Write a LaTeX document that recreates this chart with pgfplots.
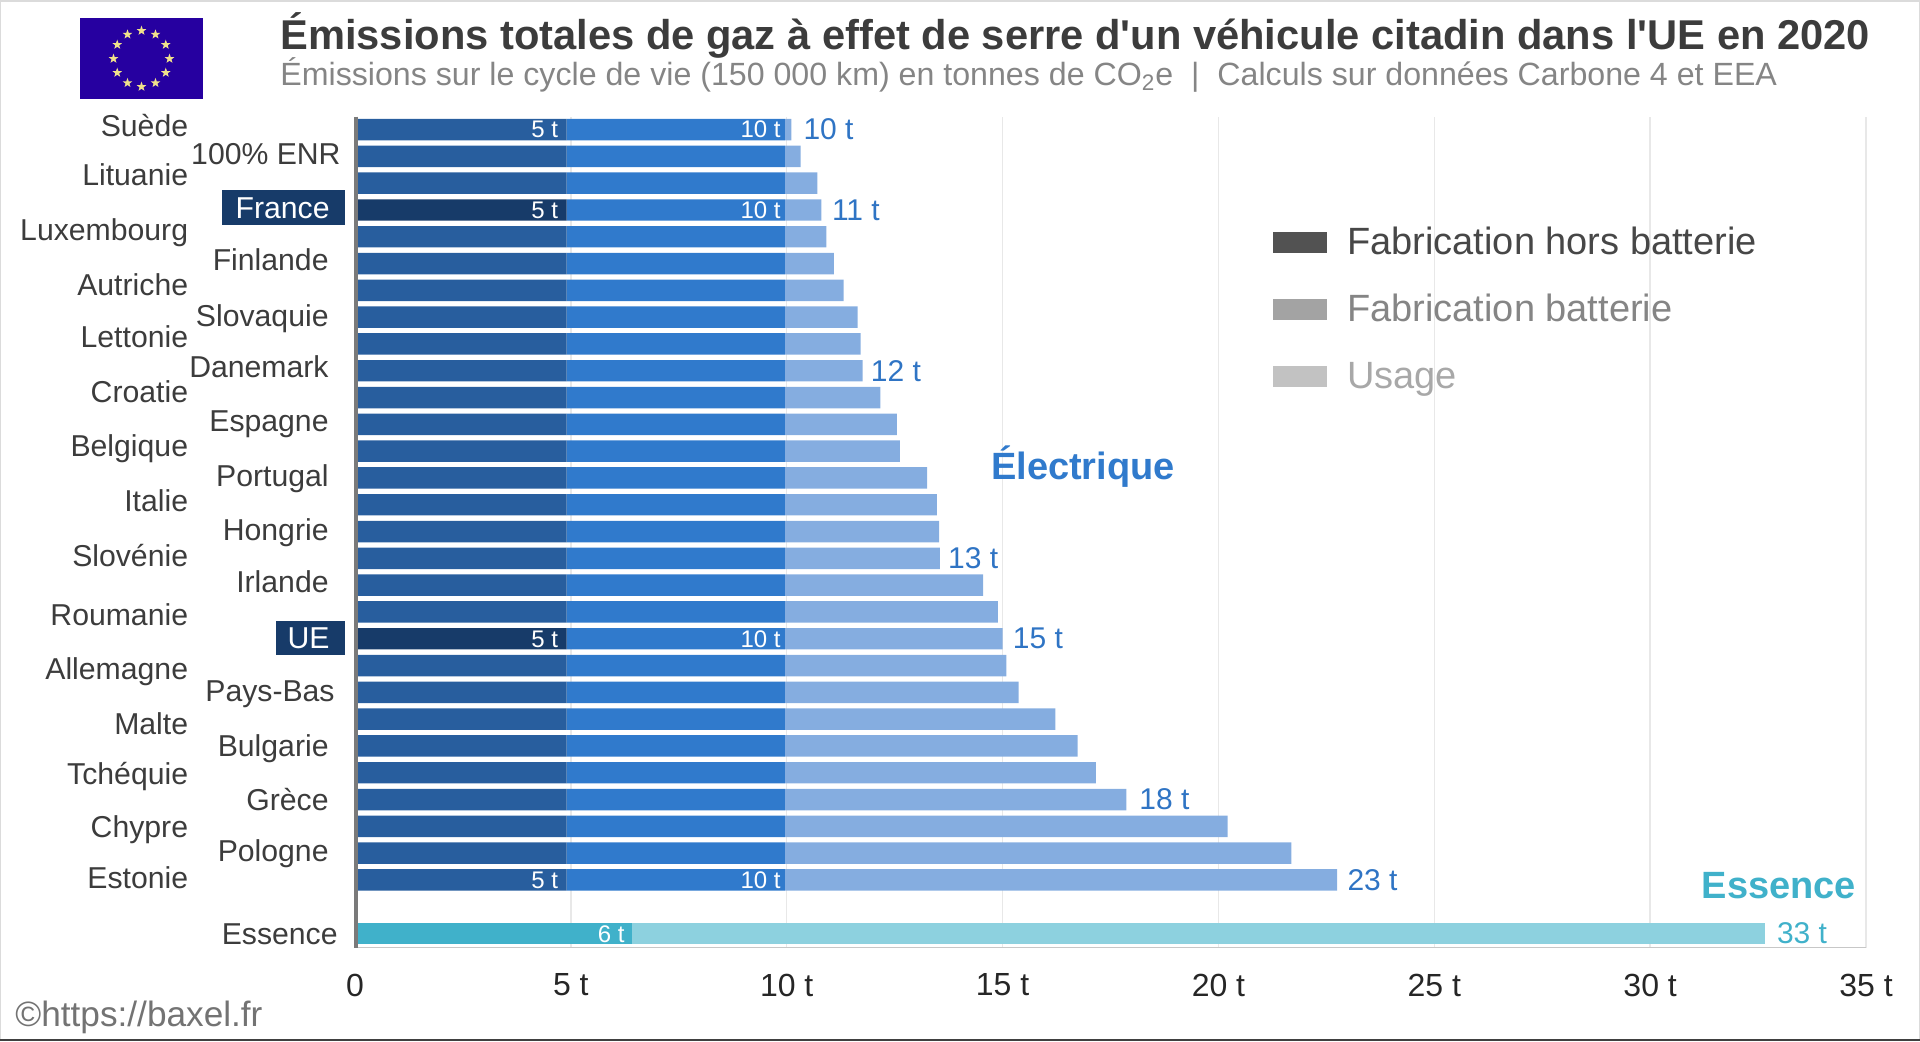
\documentclass[border=0pt]{standalone}
\usepackage{fontspec}
\setmainfont{Liberation Sans}
\usepackage{pgfplots}
\usepackage{pgfplotstable}
\pgfplotsset{compat=1.18}
\usetikzlibrary{shapes.geometric,calc}
\definecolor{fab}{HTML}{285E9E}
\definecolor{fabhi}{HTML}{173B69}
\definecolor{batt}{HTML}{307ACC}
\definecolor{usage}{HTML}{85ADE0}
\definecolor{essa}{HTML}{40B1CA}
\definecolor{essb}{HTML}{8DD1DF}
\definecolor{elec}{HTML}{2F74C4}
\definecolor{gridc}{HTML}{E8E8E8}
\definecolor{lab}{HTML}{3C3C3C}
\newcommand{\fs}[1]{\fontsize{#1}{#1}\selectfont}
\newcommand{\total}[3]{\node[anchor=west,inner sep=0pt,font=\fs{15},text=elec] at (axis cs:#1,#2) {#3};}
% y: row position, Suede on top, Essence set apart at 0
\pgfplotstableread{
y  fab  fabhi batt usage essa essb
30 4.90 0    5.06 0.15  0    0
29 4.90 0    5.06 0.36  0    0
28 4.90 0    5.06 0.75  0    0
27 0    4.90 5.06 0.84  0    0
26 4.90 0    5.06 0.96  0    0
25 4.90 0    5.06 1.13  0    0
24 4.90 0    5.06 1.36  0    0
23 4.90 0    5.06 1.68  0    0
22 4.90 0    5.06 1.75  0    0
21 4.90 0    5.06 1.80  0    0
20 4.90 0    5.06 2.21  0    0
19 4.90 0    5.06 2.59  0    0
18 4.90 0    5.06 2.66  0    0
17 4.90 0    5.06 3.29  0    0
16 4.90 0    5.06 3.52  0    0
15 4.90 0    5.06 3.57  0    0
14 4.90 0    5.06 3.59  0    0
13 4.90 0    5.06 4.59  0    0
12 4.90 0    5.06 4.93  0    0
11 0    4.90 5.06 5.04  0    0
10 4.90 0    5.06 5.13  0    0
9  4.90 0    5.06 5.41  0    0
8  4.90 0    5.06 6.26  0    0
7  4.90 0    5.06 6.78  0    0
6  4.90 0    5.06 7.20  0    0
5  4.90 0    5.06 7.91  0    0
4  4.90 0    5.06 10.25 0    0
3  4.90 0    5.06 11.73 0    0
2  4.90 0    5.06 12.79 0    0
0  0    0    0    0     6.42 26.23
}\rows
\begin{document}
\begin{tikzpicture}
\path[use as bounding box] (0,0) rectangle (960pt,-520.5pt);
\begin{axis}[
    at={(177.5pt,-473.85pt)}, anchor=south west,
    scale only axis, width=755.5pt, height=415.5pt,
    xbar stacked, bar width=0.8,
    xmin=0, xmax=35, ymin=-0.53, ymax=30.48,
    axis x line*=bottom, axis y line*=left,
    x axis line style={draw=black!22,line width=0.6pt,-},
    y axis line style={draw=none},
    xtick={0,5,...,35},
    xticklabels={0,5 t,10 t,15 t,20 t,25 t,30 t,35 t},
    ytick=\empty, major tick length=0pt,
    xticklabel style={font=\fs{16},text=black!85,yshift=-9.5pt},
    xmajorgrids, grid style={draw=gridc,line width=0.7pt},
    clip=false,
    legend style={at={(0.607,0.868)},anchor=north west,draw=none,fill=none,
      font=\fs{19},row sep=18.5pt,inner sep=0pt,
      nodes={inner sep=0pt,anchor=west}},
    legend cell align=left,
    legend image code/.code={\fill[#1] (0pt,-5pt) rectangle (26.5pt,5pt);},
]
\addplot[fill=fab,draw=none,forget plot] table[x=fab,y=y] {\rows};
\addplot[fill=fabhi,draw=none,forget plot] table[x=fabhi,y=y] {\rows};
\addplot[fill=essa,draw=none,forget plot] table[x=essa,y=y] {\rows};
\addplot[fill=batt,draw=none,forget plot] table[x=batt,y=y] {\rows};
\addplot[fill=usage,draw=none,forget plot] table[x=usage,y=y] {\rows};
\addplot[fill=essb,draw=none,forget plot] table[x=essb,y=y] {\rows};
\addlegendimage{black!68}
\addlegendentry{\hspace*{10.4pt}\textcolor{black!72}{Fabrication hors batterie}}
\addlegendimage{black!36}
\addlegendentry{\hspace*{10.4pt}\textcolor{black!48}{Fabrication batterie}}
\addlegendimage{black!24}
\addlegendentry{\hspace*{10.4pt}\textcolor{black!34}{Usage}}
% totals
\total{10.38}{30}{10 t}
\total{11.04}{27}{11 t}
\total{11.94}{21}{12 t}
\total{13.73}{14}{13 t}
\total{15.23}{11}{15 t}
\total{18.16}{5}{18 t}
\total{22.98}{2}{23 t}
\node[anchor=west,inner sep=0pt,font=\fs{15},text=essa] at (axis cs:32.93,0) {33 t};
\end{axis}
\begin{scope}[x=0.5pt,y=-0.5pt]
\draw[black!14,line width=0.8pt] (0.5,1041) -- (0.5,1) -- (1919.5,1) -- (1919.5,1041);
\draw[black!75,line width=1pt] (0,1040) -- (1920,1040);
% left axis line, over the bar ends
\draw[black!52,line width=2pt] (355.5,116.7) -- (355.5,947.7);
% marks inside the bars
\foreach \yy in {129.5,210,639,880} {
  \node[anchor=east,inner sep=0pt,font=\fs{12},text=white] at (558.5,\yy) {5 t};
  \node[anchor=east,inner sep=0pt,font=\fs{12},text=white] at (781,\yy) {10 t};
}
\node[anchor=east,inner sep=0pt,font=\fs{12},text=white] at (625,934) {6 t};
% flag
\fill[fill={rgb,255:red,38;green,0;blue,160}] (80,18) rectangle (203,99);
\foreach \a in {0,30,...,330}
  \node[star,star points=5,star point ratio=2.4,fill={rgb,255:red,240;green,225;blue,140},inner sep=0pt,minimum size=5pt] at ($(141.5,58.7)+(\a:28)$) {};
% header
\node[anchor=west,inner sep=0pt,font=\bfseries\fs{20.83},text=lab] at (280,35) {Émissions totales de gaz à effet de serre d\textquotesingle un véhicule citadin dans l\textquotesingle UE en 2020};
\node[anchor=west,inner sep=0pt,font=\fs{16.08},text=black!48] at (280,75) {Émissions sur le cycle de vie (150 000 km) en tonnes de CO\textsubscript{2}e \ | \ Calculs sur données Carbone 4 et EEA};
% country labels, two staggered columns
\foreach \n/\yy in {Suède/126,Lituanie/175,Luxembourg/230,Autriche/285,Lettonie/337,Croatie/392,Belgique/446,Italie/501,Slovénie/556,Roumanie/615,Allemagne/669,Malte/724,Tchéquie/774,Chypre/827,Estonie/878}
  \node[anchor=base east,inner sep=0pt,font=\fs{15.1},text=lab] at (188.5,{\yy+10}) {\n};
\foreach \n/\yy in {Finlande/260,Slovaquie/316,Danemark/367,Espagne/421,Portugal/476,Hongrie/530,Irlande/582,Bulgarie/746,Grèce/800,Pologne/851}
  \node[anchor=base east,inner sep=0pt,font=\fs{15.1},text=lab] at (329,{\yy+10}) {\n};
\node[anchor=base east,inner sep=0pt,font=\fs{15.1},text=lab] at (341,164) {100\% ENR};
\node[anchor=base east,inner sep=0pt,font=\fs{15.1},text=lab] at (335,701) {Pays-Bas};
\node[anchor=base east,inner sep=0pt,font=\fs{15.1},text=lab] at (338,944) {Essence};
\fill[fabhi] (222,190) rectangle (345,225);
\node[anchor=base east,inner sep=0pt,font=\fs{15.1},text=white] at (330,218) {France};
\fill[fabhi] (276,621) rectangle (345,655);
\node[anchor=base east,inner sep=0pt,font=\fs{15.1},text=white] at (330,648) {UE};
% series names
\node[inner sep=0pt,font=\bfseries\fs{19},text=batt] at (1083,467) {Électrique};
\node[inner sep=0pt,font=\bfseries\fs{19},text=essa] at (1779,886) {Essence};
\node[anchor=west,inner sep=0pt,font=\fs{17.6},text=black!55] at (15,1017) {©https://baxel.fr};
\end{scope}
\end{tikzpicture}
\end{document}
